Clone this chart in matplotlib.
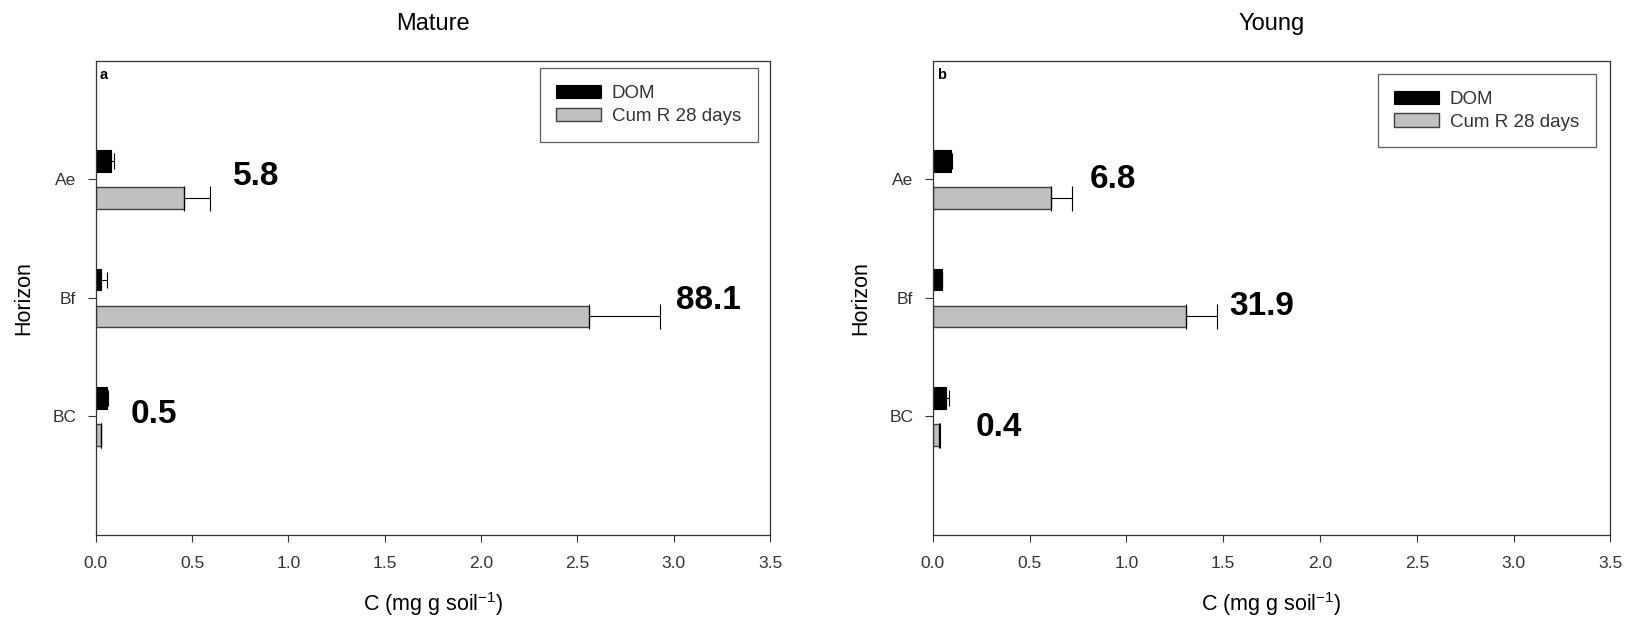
import matplotlib
matplotlib.use("Agg")
import matplotlib.pyplot as plt
import numpy as np
from matplotlib.patches import Patch

plt.rcParams['font.family'] = ['Liberation Sans', 'DejaVu Sans']
plt.rcParams['mathtext.fontset'] = 'custom'
plt.rcParams['mathtext.rm'] = 'Liberation Sans'
plt.rcParams['mathtext.it'] = 'Liberation Sans'

horizons = ["Ae", "Bf", "BC"]
panels = ["Mature", "Young"]
panel_letters = ["a", "b"]
series_names = ["DOM", "Cum R 28 days"]

# Mature
mature_dom = [0.080, 0.028, 0.059]
mature_dom_err = [0.014, 0.030, 0.003]
mature_cumr = [0.457, 2.56, 0.026]
mature_cumr_err = [0.135, 0.37, 0.004]
mature_ratio_labels = ["5.8", "88.1", "0.5"]

# Young
young_dom = [0.093, 0.045, 0.070]
young_dom_err = [0.005, 0.004, 0.012]
young_cumr = [0.61, 1.31, 0.031]
young_cumr_err = [0.11, 0.16, 0.005]
young_ratio_labels = ["6.8", "31.9", "0.4"]

xticks = [0.0, 0.5, 1.0, 1.5, 2.0, 2.5, 3.0, 3.5]
xtick_labels = ["0.0", "0.5", "1.0", "1.5", "2.0", "2.5", "3.0", "3.5"]

# layout (annotation placement, in data coords)
ann_x = [[0.71, 3.01, 0.18], [0.81, 1.53, 0.22]]
ann_dy = [[0.025, -0.02, 0.02], [0.0, -0.07, -0.09]]

fig = plt.figure(figsize=(16.27, 6.19), dpi=100)
axes = [fig.add_axes([0.0588, 0.1357, 0.4145, 0.7658]),
        fig.add_axes([0.5734, 0.1357, 0.4164, 0.7658])]
legend_anchor = [(0.982, 0.985), (0.9786, 0.973)]

data = [(mature_dom, mature_dom_err, mature_cumr, mature_cumr_err, mature_ratio_labels),
        (young_dom, young_dom_err, young_cumr, young_cumr_err, young_ratio_labels)]

ypos = np.array([3, 2, 1], dtype=float)
h = 0.18
off = 0.155
spine_c = '#333333'
tick_c = '#333333'

for i, ax in enumerate(axes):
    dom, dom_e, cr, cr_e, labs = data[i]
    ax.barh(ypos + off, dom, height=h, color='black', edgecolor='black', linewidth=0.8,
            xerr=[np.zeros(3), dom_e], error_kw=dict(ecolor='black', elinewidth=0.8, capsize=6, capthick=0.8))
    ax.barh(ypos - off, cr, height=h, color='#c0c0c0', edgecolor='#404040', linewidth=1.0,
            xerr=[np.zeros(3), cr_e], error_kw=dict(ecolor='black', elinewidth=0.8, capsize=9, capthick=0.8))
    for j in range(3):
        ax.text(ann_x[i][j], ypos[j] + ann_dy[i][j], labs[j], fontsize=24, fontweight='bold',
                ha='left', va='center', color='black')
    ax.set_xlim(0, 3.5)
    ax.set_ylim(0, 4)
    ax.set_xticks(xticks)
    ax.set_xticklabels(xtick_labels, fontsize=12.5, color=tick_c)
    ax.set_yticks(ypos)
    ax.set_yticklabels(horizons, fontsize=12.5, color=tick_c)
    ax.tick_params(axis='x', direction='out', length=5, width=0.8, color=spine_c, pad=10)
    ax.tick_params(axis='y', direction='out', length=6, width=0.8, color=spine_c, pad=8)
    for s in ax.spines.values():
        s.set_color(spine_c)
        s.set_linewidth(0.9)
    ax.set_xlabel("C (mg g soil$^{\\mathregular{-1}}$)", fontsize=15.5, va='center')
    ax.xaxis.set_label_coords(0.5, -0.1456)
    ax.set_ylabel("Horizon", fontsize=15.5, va='center', ha='center')
    ax.yaxis.set_label_coords(-0.106, 0.5)
    ax.text(0.5, 1.078, panels[i], transform=ax.transAxes, fontsize=17,
            ha='center', va='center')
    ax.text(0.006, 0.97, panel_letters[i], transform=ax.transAxes, fontsize=10.5,
            fontweight='bold', ha='left', va='center')
    handles = [Patch(facecolor='black', edgecolor='black', linewidth=0.8),
               Patch(facecolor='#c0c0c0', edgecolor='#404040', linewidth=1.0)]
    leg = ax.legend(handles, series_names, loc='upper right', bbox_to_anchor=legend_anchor[i],
                    borderaxespad=0, fontsize=13.5, frameon=True, fancybox=False,
                    handlelength=2.4, handleheight=0.7, labelspacing=0.3,
                    handletextpad=0.55, borderpad=0.9)
    leg.get_frame().set_edgecolor('#333333')
    leg.get_frame().set_linewidth(0.9)
    for t in leg.get_texts():
        t.set_color('#333333')

fig.savefig("out.png", dpi=100)
